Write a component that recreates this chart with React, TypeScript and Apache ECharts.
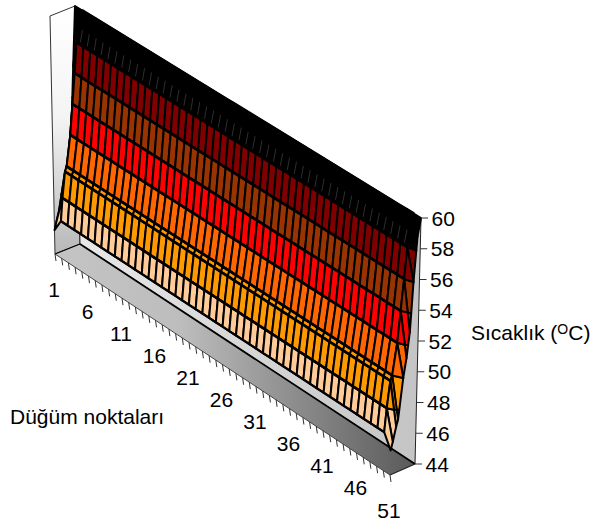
import React, { useEffect, useRef } from "react";
import * as echarts from "echarts";

const nodeLabels = [1, 6, 11, 16, 21, 26, 31, 36, 41, 46, 51];
const tempTicks = [44, 46, 48, 50, 52, 54, 56, 58, 60];
const nodeCount = 51;
const rowDepth = [0, 0.08, 0.2, 0.27, 0.44, 0.55, 0.66, 0.76, 0.88, 1];
const innerTemps = [46.5, 48, 49.7, 50, 52, 54, 56, 58, 59, 60];
const firstNodeTemps = [45.6, 46.1, 46.8, 47.2, 48.2, 48.8, 50.3, 52, 56.1, 60];
const lastNodeTemps = [45.6, 46.1, 47, 47.4, 50, 51.2, 52.8, 56, 58.9, 60];
const bandEdges = [44, 48, 50, 52, 54, 56, 58, 60];
const bandColors = ["#FFCC99", "#FF9900", "#FF6600", "#FF0000", "#993300", "#800000", "#000000"];

const FONT = '"Liberation Sans", Arial, sans-serif';
// screen frame of the 3D box: [node, depth, temperature] corners
const C: Record<string, number[]> = {
  "000": [55, 254], "100": [390, 475], "110": [415, 464], "010": [80, 244],
  "001": [50, 16], "101": [396, 229], "111": [421, 218], "011": [75, 6],
};
function proj(u: number, v: number, T: number) {
  const w = (T - 44) / 16;
  const out = [0, 0];
  for (let a = 0; a < 2; a++) for (let b = 0; b < 2; b++) for (let c = 0; c < 2; c++) {
    const f = (a ? u : 1 - u) * (b ? v : 1 - v) * (c ? w : 1 - w);
    const p = C[`${a}${b}${c}`];
    out[0] += f * p[0];
    out[1] += f * p[1];
  }
  return out;
}
type P3 = [number, number, number];
function clipT(poly: P3[], t: number, keepAbove: boolean): P3[] {
  const res: P3[] = [];
  for (let i = 0; i < poly.length; i++) {
    const a = poly[i], b = poly[(i + 1) % poly.length];
    const ia = keepAbove ? a[2] >= t : a[2] <= t;
    const ib = keepAbove ? b[2] >= t : b[2] <= t;
    if (ia) res.push(a);
    if (ia !== ib) {
      const s = (t - a[2]) / (b[2] - a[2]);
      res.push([a[0] + s * (b[0] - a[0]), a[1] + s * (b[1] - a[1]), t]);
    }
  }
  return res;
}
function tempAt(n: number, r: number) {
  if (n === 0) return firstNodeTemps[r];
  if (n === nodeCount - 1) return lastNodeTemps[r];
  return innerTemps[r];
}
const cellData: number[][] = [];
for (let r = rowDepth.length - 2; r >= 0; r--) for (let n = 0; n < nodeCount - 1; n++) cellData.push([n, r]);

export default function App() {
  const ref = useRef<HTMLDivElement>(null);
  useEffect(() => {
    const chart = echarts.init(ref.current!, undefined, { renderer: "svg" });
    const pt = (api: any, u: number, v: number, T: number) => api.coord(proj(u, v, T));
    const poly = (api: any, pts: number[][], style: any) => ({
      type: "polygon", shape: { points: pts.map((p) => api.coord(p)) }, style,
    });
    const seg = (api: any, a: number[], b: number[], stroke: string, lineWidth: number) => {
      const p = api.coord(a), q = api.coord(b);
      return { type: "line", shape: { x1: p[0], y1: p[1], x2: q[0], y2: q[1] }, style: { stroke, lineWidth } };
    };
    const lg = (x2: number, y2: number, stops: [number, string][]) =>
      new echarts.graphic.LinearGradient(0, 0, x2, y2, stops.map(([offset, color]) => ({ offset, color })));
    chart.setOption({
      animation: false,
      grid: { left: 0, right: 0, top: 0, bottom: 0 },
      xAxis: { type: "value", min: 0, max: 592, show: false },
      yAxis: { type: "value", min: 0, max: 520, inverse: true, show: false },
      graphic: [
        { type: "text", x: 10, y: 416, style: { text: "Düğüm noktaları", font: `21px ${FONT}`, fill: "#000", textVerticalAlign: "middle" } },
        {
          type: "text", x: 471, y: 322,
          style: {
            text: "Sıcaklık ({s|O}C)", font: `21px ${FONT}`, fill: "#000",
            rich: { s: { fontSize: 14, fontFamily: "Liberation Sans", verticalAlign: "top", padding: [0, 0, 6, 0] } },
          },
        },
      ],
      series: [
        {
          type: "custom", coordinateSystem: "cartesian2d", clip: false, data: [[0, 0]], silent: true,
          renderItem: (_p: any, api: any) => {
            const c = (k: string) => C[k];
            return {
              type: "group",
              children: [
                poly(api, [c("000"), c("001"), c("011"), c("010")], { fill: lg(0, 1, [[0, "#ffffff"], [0.45, "#f4f4f4"], [1, "#b8b8b8"]]), stroke: "#333", lineWidth: 1 }),
                poly(api, [c("010"), c("011"), c("111"), c("110")], { fill: lg(1, 0, [[0, "#e8e8e8"], [1, "#c4c4c4"]]), stroke: "#222", lineWidth: 1 }),
                poly(api, [c("000"), c("100"), c("110"), c("010")], { fill: lg(1, 0, [[0, "#c4c4c4"], [0.35, "#bdbdbd"], [1, "#5a5a5a"]]) }),
                seg(api, c("010"), c("110"), "#000", 1.8),
                seg(api, c("000"), c("010"), "#000", 1.3),
                seg(api, c("100"), c("110"), "#222", 1.2),
                seg(api, c("000"), c("100"), "#444", 1),
              ],
            };
          },
        },
        {
          type: "custom", coordinateSystem: "cartesian2d", clip: false, silent: true,
          data: cellData,
          renderItem: (_p: any, api: any) => {
            const n = api.value(0), r = api.value(1);
            const u0 = n / (nodeCount - 1), u1 = (n + 1) / (nodeCount - 1);
            const quad: P3[] = [
              [u0, rowDepth[r], tempAt(n, r)], [u1, rowDepth[r], tempAt(n + 1, r)],
              [u1, rowDepth[r + 1], tempAt(n + 1, r + 1)], [u0, rowDepth[r + 1], tempAt(n, r + 1)],
            ];
            const children: any[] = [];
            bandColors.forEach((color, b) => {
              let q = clipT(quad, bandEdges[b], true);
              if (q.length) q = clipT(q, bandEdges[b + 1], false);
              if (q.length < 3) return;
              children.push({
                type: "polygon",
                shape: { points: q.map((p) => pt(api, p[0], p[1], p[2])) },
                style: { fill: color, stroke: "#000", lineWidth: 2, lineJoin: "round" },
              });
            });
            if (r === 7 && n > 0 && n < nodeCount - 2) {
              const uc = (u0 + u1) / 2;
              const a = pt(api, uc, rowDepth[7] + 0.02, innerTemps[7] + 0.15);
              const b2 = pt(api, uc, rowDepth[8], innerTemps[8]);
              children.push({
                type: "line",
                shape: { x1: a[0], y1: a[1], x2: b2[0], y2: b2[1] },
                style: { stroke: "rgba(130,130,130,0.45)", lineWidth: 0.8 },
              });
            }
            return { type: "group", children };
          },
        },
        {
          type: "custom", coordinateSystem: "cartesian2d", clip: false, silent: true,
          data: rowDepth.map((_, r) => [r]),
          renderItem: (_p: any, api: any) => {
            const r = api.value(0);
            const pts: number[][] = [];
            for (let n = 0; n < nodeCount; n++) pts.push(pt(api, n / (nodeCount - 1), rowDepth[r], tempAt(n, r)));
            return { type: "polyline", shape: { points: pts.slice(1, -1) }, style: { fill: "none", stroke: "#000", lineWidth: r === 0 ? 2.2 : 2.7 } };
          },
        },
        {
          type: "custom", coordinateSystem: "cartesian2d", clip: false, silent: true,
          data: Array.from({ length: nodeCount }, (_, i) => [i + 1]),
          renderItem: (_p: any, api: any) => {
            const node = api.value(0);
            const a = proj((node - 1) / (nodeCount - 1), 0, 44);
            return seg(api, a, [a[0] + 1, a[1] + 7], "#333", 1);
          },
        },
        {
          type: "custom", coordinateSystem: "cartesian2d", clip: false, silent: true,
          data: nodeLabels.map((n) => [n]),
          renderItem: (_p: any, api: any) => {
            const node = api.value(0);
            const a = proj((node - 1) / (nodeCount - 1), 0, 44);
            const c = api.coord([a[0] - 1, a[1] + 35]);
            return { type: "text", style: { x: c[0], y: c[1], text: String(node), font: `21px ${FONT}`, fill: "#000", textAlign: "center", textVerticalAlign: "middle" } };
          },
        },
        {
          type: "custom", coordinateSystem: "cartesian2d", clip: false, silent: true,
          data: tempTicks.map((t) => [t]),
          renderItem: (_p: any, api: any) => {
            const t = api.value(0);
            const a = proj(1, 1, t);
            const c = api.coord([a[0] + 10.5, a[1]]);
            return {
              type: "group",
              children: [
                seg(api, a, [a[0] + 7, a[1]], "#333", 1),
                { type: "text", style: { x: c[0], y: c[1], text: String(t), font: `21px ${FONT}`, fill: "#000", textAlign: "left", textVerticalAlign: "middle" } },
              ],
            };
          },
        },
      ],
    });
    return () => chart.dispose();
  }, []);
  return <div ref={ref} style={{ position: "absolute", left: 0, top: 0, width: 592, height: 520 }} />;
}
